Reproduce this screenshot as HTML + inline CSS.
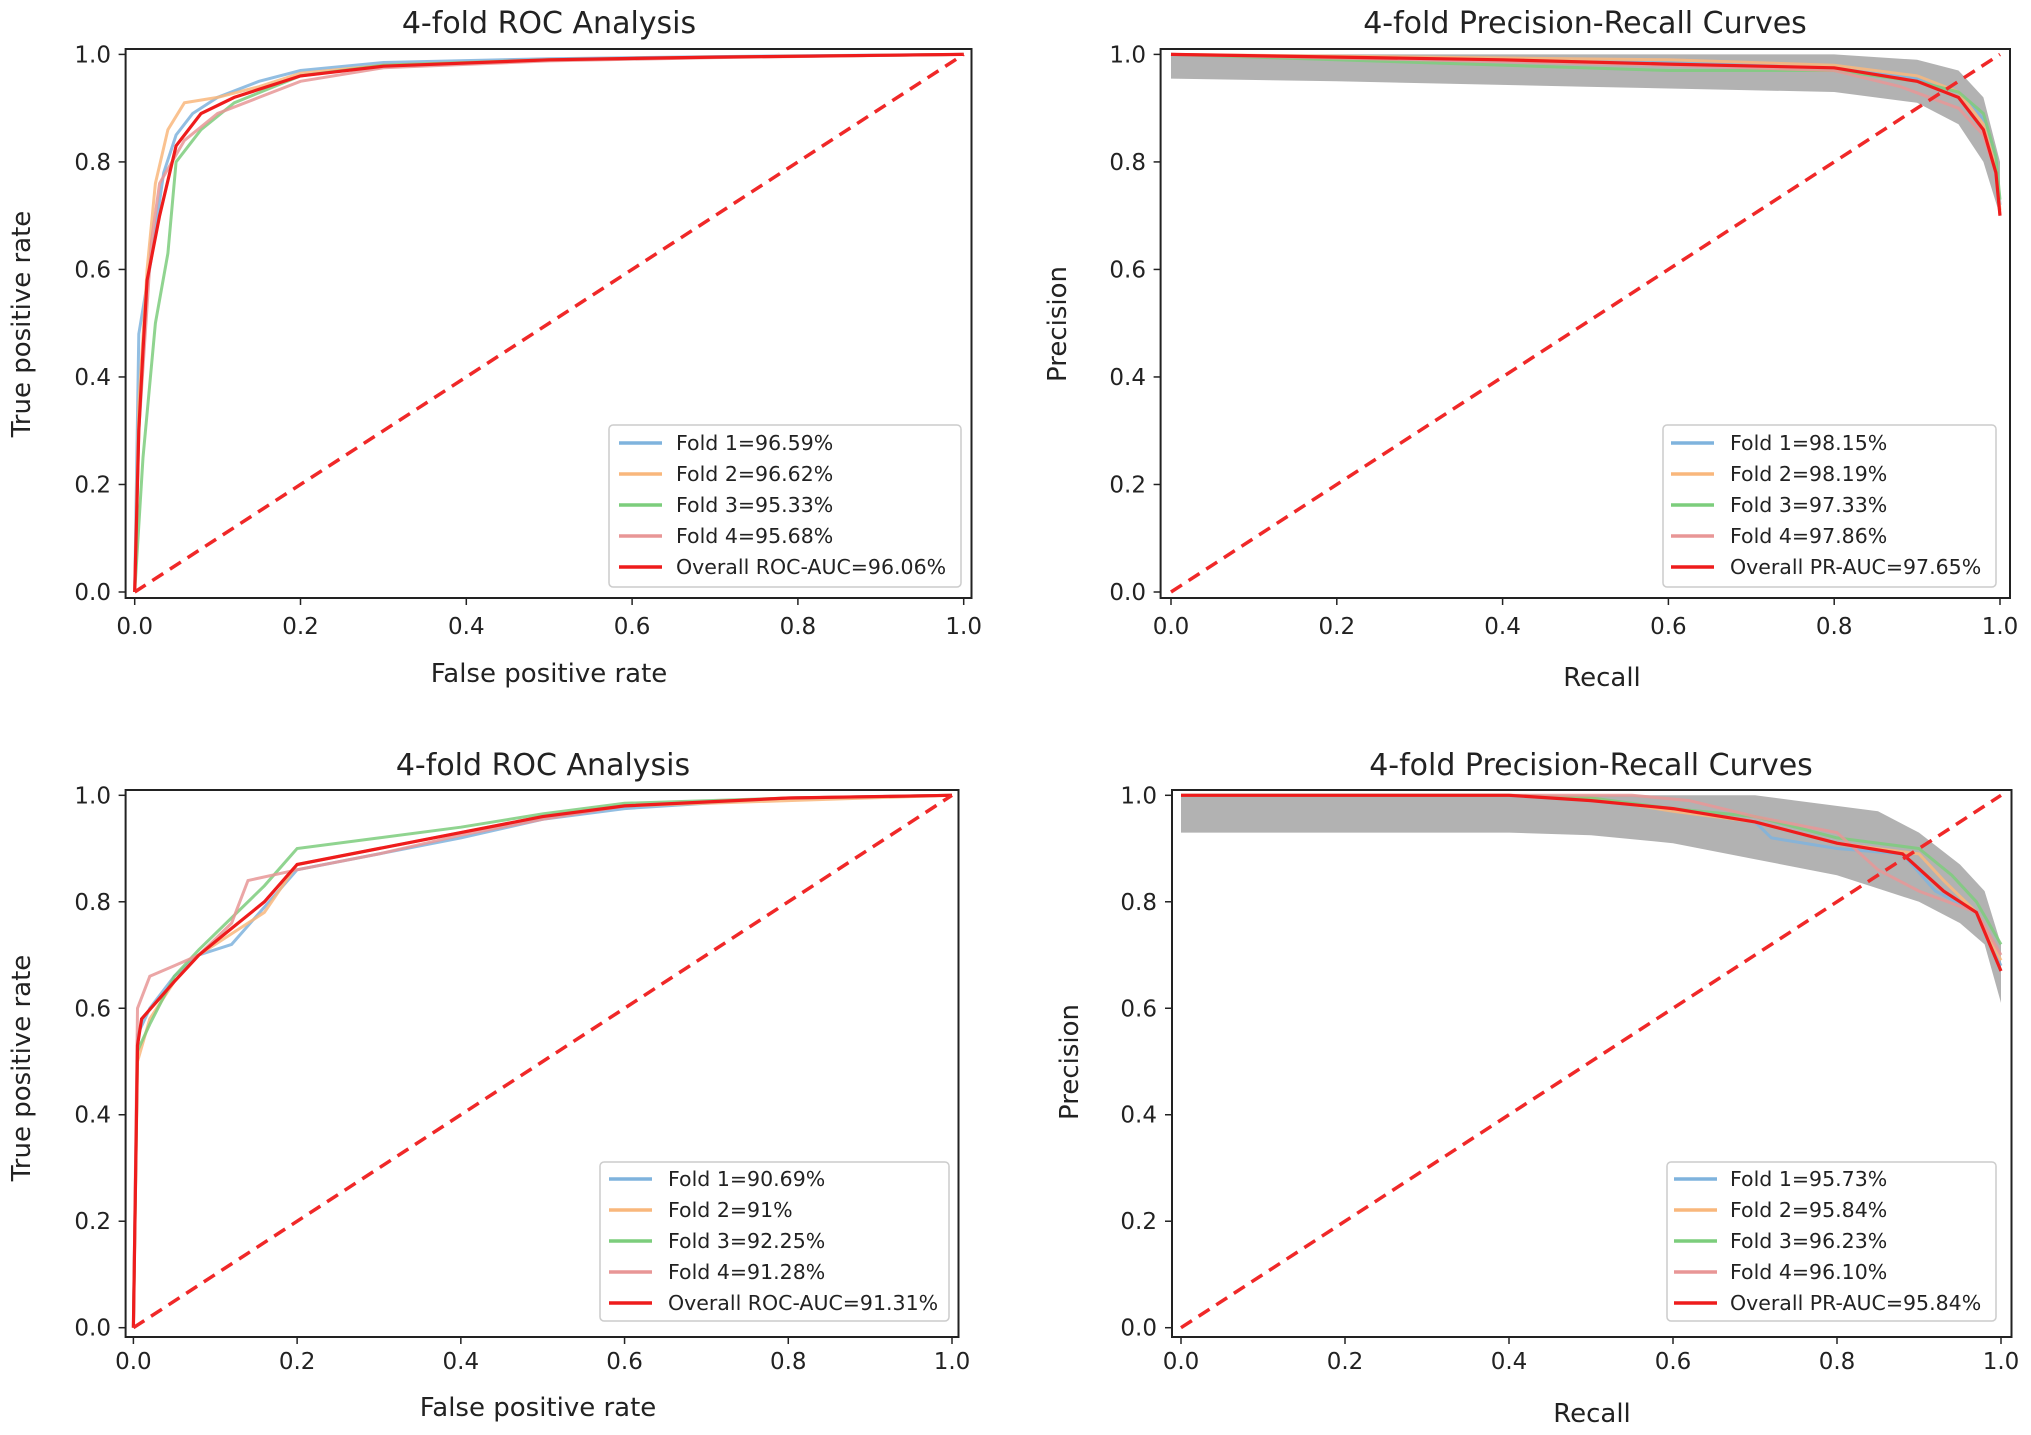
<!DOCTYPE html>
<html><head><meta charset="utf-8"><style>
html,body{margin:0;padding:0;background:#fff;}
svg{display:block;font-family:"DejaVu Sans","Liberation Sans",sans-serif;}
</style></head><body>
<svg id="chart" width="2031" height="1435" viewBox="0 0 2031 1435" xmlns="http://www.w3.org/2000/svg"></svg>
<script>
// ---- data ----
const ticks = [0, 0.2, 0.4, 0.6, 0.8, 1.0];
const tickLabels = ["0.0","0.2","0.4","0.6","0.8","1.0"];
const seriesNames = ["Fold 1","Fold 2","Fold 3","Fold 4"];
const seriesColors = ["#7fb3dd","#f9b77c","#7ccd7c","#e89696"];

// Panel 1: ROC (top)
const roc1Fold1 = [[0,0],[0.005,0.48],[0.02,0.62],[0.035,0.78],[0.05,0.85],[0.07,0.89],[0.1,0.92],[0.15,0.95],[0.2,0.97],[0.3,0.985],[0.5,0.992],[0.7,0.996],[1,1]];
const roc1Fold2 = [[0,0],[0.005,0.35],[0.015,0.6],[0.025,0.76],[0.04,0.86],[0.06,0.91],[0.1,0.92],[0.15,0.94],[0.2,0.965],[0.3,0.98],[0.5,0.99],[0.7,0.995],[1,1]];
const roc1Fold3 = [[0,0],[0.01,0.25],[0.025,0.5],[0.04,0.63],[0.05,0.8],[0.08,0.86],[0.12,0.91],[0.2,0.96],[0.3,0.98],[0.5,0.99],[0.7,0.995],[1,1]];
const roc1Fold4 = [[0,0],[0.005,0.3],[0.02,0.65],[0.03,0.76],[0.06,0.84],[0.1,0.89],[0.15,0.92],[0.2,0.95],[0.3,0.975],[0.5,0.988],[0.7,0.994],[1,1]];
const roc1Overall = [[0,0],[0.005,0.3],[0.01,0.45],[0.015,0.58],[0.03,0.7],[0.05,0.83],[0.08,0.89],[0.12,0.92],[0.2,0.96],[0.3,0.978],[0.5,0.99],[0.7,0.995],[1,1]];
const roc1Values = ["96.59%","96.62%","95.33%","95.68%"];

// Panel 2: PR (top)
const pr2Fold1 = [[0,1],[0.3,0.99],[0.6,0.985],[0.8,0.975],[0.9,0.955],[0.95,0.93],[0.98,0.88],[0.995,0.8],[1,0.72]];
const pr2Fold2 = [[0,1],[0.3,0.995],[0.6,0.99],[0.8,0.98],[0.9,0.96],[0.95,0.93],[0.98,0.87],[0.995,0.79],[1,0.71]];
const pr2Fold3 = [[0,1],[0.3,0.985],[0.6,0.97],[0.8,0.97],[0.9,0.95],[0.95,0.93],[0.98,0.89],[0.995,0.81],[1,0.73]];
const pr2Fold4 = [[0,1],[0.3,0.99],[0.6,0.98],[0.8,0.97],[0.88,0.94],[0.95,0.9],[0.98,0.85],[0.995,0.78],[1,0.7]];
const pr2Overall = [[0,1],[0.4,0.99],[0.6,0.982],[0.8,0.975],[0.9,0.95],[0.95,0.92],[0.98,0.86],[0.995,0.78],[1,0.7]];
const pr2BandUpper = [[0,1],[0.8,1],[0.9,0.99],[0.95,0.97],[0.98,0.92],[1,0.8]];
const pr2BandLower = [[0,0.955],[0.2,0.95],[0.5,0.94],[0.8,0.93],[0.9,0.91],[0.95,0.87],[0.98,0.8],[1,0.7]];
const pr2Values = ["98.15%","98.19%","97.33%","97.86%"];

// Panel 3: ROC (bottom)
const roc3Fold1 = [[0,0],[0.005,0.55],[0.02,0.6],[0.05,0.66],[0.08,0.7],[0.12,0.72],[0.16,0.79],[0.2,0.86],[0.3,0.89],[0.4,0.92],[0.5,0.955],[0.6,0.975],[0.8,0.995],[1,1]];
const roc3Fold2 = [[0,0],[0.005,0.5],[0.02,0.58],[0.05,0.65],[0.08,0.7],[0.12,0.74],[0.16,0.78],[0.2,0.87],[0.3,0.9],[0.4,0.93],[0.5,0.96],[0.6,0.98],[0.8,0.99],[1,1]];
const roc3Fold3 = [[0,0],[0.005,0.52],[0.02,0.57],[0.05,0.66],[0.08,0.71],[0.12,0.77],[0.16,0.83],[0.2,0.9],[0.3,0.92],[0.4,0.94],[0.5,0.965],[0.6,0.985],[0.8,0.995],[1,1]];
const roc3Fold4 = [[0,0],[0.005,0.6],[0.02,0.66],[0.05,0.68],[0.08,0.7],[0.12,0.76],[0.14,0.84],[0.2,0.86],[0.3,0.89],[0.4,0.925],[0.5,0.955],[0.6,0.98],[0.8,0.995],[1,1]];
const roc3Overall = [[0,0],[0.005,0.53],[0.01,0.58],[0.05,0.65],[0.08,0.7],[0.12,0.75],[0.16,0.8],[0.2,0.87],[0.3,0.9],[0.4,0.93],[0.5,0.96],[0.6,0.98],[0.8,0.995],[1,1]];
const roc3Values = ["90.69%","91%","92.25%","91.28%"];

// Panel 4: PR (bottom)
const pr4Fold1 = [[0,1],[0.4,1],[0.5,0.99],[0.6,0.975],[0.7,0.95],[0.72,0.92],[0.8,0.9],[0.88,0.89],[0.92,0.82],[0.97,0.78],[1,0.68]];
const pr4Fold2 = [[0,1],[0.4,1],[0.5,0.995],[0.6,0.97],[0.7,0.95],[0.8,0.91],[0.9,0.89],[0.93,0.84],[0.97,0.78],[1,0.69]];
const pr4Fold3 = [[0,1],[0.4,1],[0.5,0.995],[0.6,0.975],[0.7,0.96],[0.8,0.92],[0.9,0.9],[0.94,0.85],[0.97,0.8],[1,0.72]];
const pr4Fold4 = [[0,1],[0.4,1],[0.55,1],[0.62,0.99],[0.7,0.96],[0.8,0.93],[0.85,0.86],[0.9,0.82],[0.97,0.78],[1,0.7]];
const pr4Overall = [[0,1],[0.4,1],[0.5,0.99],[0.6,0.975],[0.7,0.95],[0.8,0.91],[0.88,0.89],[0.93,0.82],[0.97,0.78],[1,0.67]];
const pr4BandUpper = [[0,1],[0.7,1],[0.75,0.99],[0.85,0.97],[0.9,0.93],[0.95,0.87],[0.98,0.82],[1,0.72]];
const pr4BandLower = [[0,0.93],[0.4,0.93],[0.5,0.925],[0.6,0.91],[0.7,0.88],[0.8,0.85],[0.9,0.8],[0.95,0.76],[0.98,0.72],[1,0.61]];
const pr4Values = ["95.73%","95.84%","96.23%","96.10%"];

// ---- drawing ----
const NS = "http://www.w3.org/2000/svg";
const svg = document.getElementById("chart");
function mk(tag, attrs, parent, text) {
  const e = document.createElementNS(NS, tag);
  for (const k in attrs) e.setAttribute(k, attrs[k]);
  if (text !== undefined) e.textContent = text;
  (parent || svg).appendChild(e);
  return e;
}

const panels = [
  {id:"roc-top", x0:134.7, x1:963.7, y0:592, y1:54.4, box:[125.6,49,971.5,598], title:"4-fold ROC Analysis", titleX:549, titleY:33,
   xl:"False positive rate", xlX:549, xlY:682, yl:"True positive rate", ylX:30, ylY:324, tickY:634, ytickX:111,
   folds:[roc1Fold1,roc1Fold2,roc1Fold3,roc1Fold4], overall:roc1Overall, vals:roc1Values, overallLabel:"Overall ROC-AUC=96.06%",
   leg:[609,425,961,587], legLineX:619, legTextX:676, legY0:443},
  {id:"pr-top", x0:1171, x1:2000, y0:592, y1:54.4, box:[1160.6,49,2010,598], title:"4-fold Precision-Recall Curves", titleX:1585, titleY:33,
   xl:"Recall", xlX:1602, xlY:686, yl:"Precision", ylX:1066, ylY:324, tickY:634, ytickX:1146,
   folds:[pr2Fold1,pr2Fold2,pr2Fold3,pr2Fold4], overall:pr2Overall, band:[pr2BandUpper,pr2BandLower], vals:pr2Values, overallLabel:"Overall PR-AUC=97.65%",
   leg:[1663,425,1996,587], legLineX:1671, legTextX:1730, legY0:443},
  {id:"roc-bottom", x0:133.4, x1:952, y0:1327.7, y1:795.3, box:[125.6,790,958.5,1337], title:"4-fold ROC Analysis", titleX:543, titleY:775,
   xl:"False positive rate", xlX:538, xlY:1416, yl:"True positive rate", ylX:30, ylY:1068, tickY:1369, ytickX:111,
   folds:[roc3Fold1,roc3Fold2,roc3Fold3,roc3Fold4], overall:roc3Overall, vals:roc3Values, overallLabel:"Overall ROC-AUC=91.31%",
   leg:[600,1162,949,1321], legLineX:609, legTextX:668, legY0:1179},
  {id:"pr-bottom", x0:1181, x1:2001, y0:1327.7, y1:795.3, box:[1172,790,2011.5,1337], title:"4-fold Precision-Recall Curves", titleX:1591, titleY:775,
   xl:"Recall", xlX:1592, xlY:1422, yl:"Precision", ylX:1078, ylY:1062, tickY:1369, ytickX:1157,
   folds:[pr4Fold1,pr4Fold2,pr4Fold3,pr4Fold4], overall:pr4Overall, band:[pr4BandUpper,pr4BandLower], vals:pr4Values, overallLabel:"Overall PR-AUC=95.84%",
   leg:[1667,1162,1996,1321], legLineX:1674, legTextX:1730, legY0:1179}
];

panels.forEach(p => {
  const sx = v => p.x0 + v * (p.x1 - p.x0);
  const sy = v => p.y0 + v * (p.y1 - p.y0);
  const pts = arr => arr.map(d => sx(d[0]).toFixed(1) + "," + sy(d[1]).toFixed(1)).join(" ");
  const g = mk("g", {});
  
  

  if (p.band) {
    const poly = pts(p.band[0]) + " " + pts(p.band[1].slice().reverse());
    const b = mk("polygon", {points: poly, fill:"#aaaaaa", "fill-opacity":"0.9", stroke:"none"}, g);
    
    
  }
  p.folds.forEach((f, i) => {
    const l = mk("polyline", {points: pts(f), fill:"none", stroke: seriesColors[i], "stroke-width":3, "stroke-opacity":0.85}, g);
    
    
  });
  const ov = mk("polyline", {points: pts(p.overall), fill:"none", stroke:"#ee1c1c", "stroke-width":3.2}, g);
  
  
  const dg = mk("line", {x1:sx(0), y1:sy(0), x2:sx(1), y2:sy(1), stroke:"#f02828", "stroke-width":3.5, "stroke-dasharray":"13,8"}, g);
  
  

  const bx = p.box;
  const frame = mk("rect", {x:bx[0], y:bx[1], width:bx[2]-bx[0], height:bx[3]-bx[1], fill:"none", stroke:"#222", "stroke-width":2}, g);
  
  

  ticks.forEach((t, i) => {
    mk("line", {x1:sx(t), y1:bx[3], x2:sx(t), y2:bx[3]+7, stroke:"#222", "stroke-width":1.5}, g);
    const xt = mk("text", {x:sx(t), y:p.tickY, "text-anchor":"middle", "font-size":23, fill:"#222"}, g, tickLabels[i]);
    
    
    mk("line", {x1:bx[0]-7, y1:sy(t), x2:bx[0], y2:sy(t), stroke:"#222", "stroke-width":1.5}, g);
    const yt = mk("text", {x:p.ytickX, y:sy(t)+8, "text-anchor":"end", "font-size":23, fill:"#222"}, g, tickLabels[i]);
    
    
  });

  const ti = mk("text", {x:p.titleX, y:p.titleY, "text-anchor":"middle", "font-size":30, fill:"#222"}, g, p.title);
  
  
  const xl = mk("text", {x:p.xlX, y:p.xlY, "text-anchor":"middle", "font-size":26, fill:"#222"}, g, p.xl);
  
  
  const yl = mk("text", {x:p.ylX, y:p.ylY, "text-anchor":"middle", "font-size":26, fill:"#222", transform:"rotate(-90 "+p.ylX+" "+p.ylY+")"}, g, p.yl);
  
  

  const lg = mk("g", {}, g);
  
  
  const L = p.leg;
  mk("rect", {x:L[0], y:L[1], width:L[2]-L[0], height:L[3]-L[1], rx:4, fill:"#fff", "fill-opacity":0.85, stroke:"#ccc", "stroke-width":1.5}, lg);
  const labels = p.vals.map((v, i) => seriesNames[i] + "=" + v).concat([p.overallLabel]);
  const colors = seriesColors.concat(["#ee1c1c"]);
  labels.forEach((lab, i) => {
    const y = p.legY0 + i * 31;
    const e = mk("g", {}, lg);
    
    
    mk("line", {x1:p.legLineX, y1:y, x2:p.legLineX+43, y2:y, stroke:colors[i], "stroke-width":3.5}, e);
    mk("text", {x:p.legTextX, y:y+7, "font-size":20.5, fill:"#222"}, e, lab);
  });
});
</script>
</body></html>
